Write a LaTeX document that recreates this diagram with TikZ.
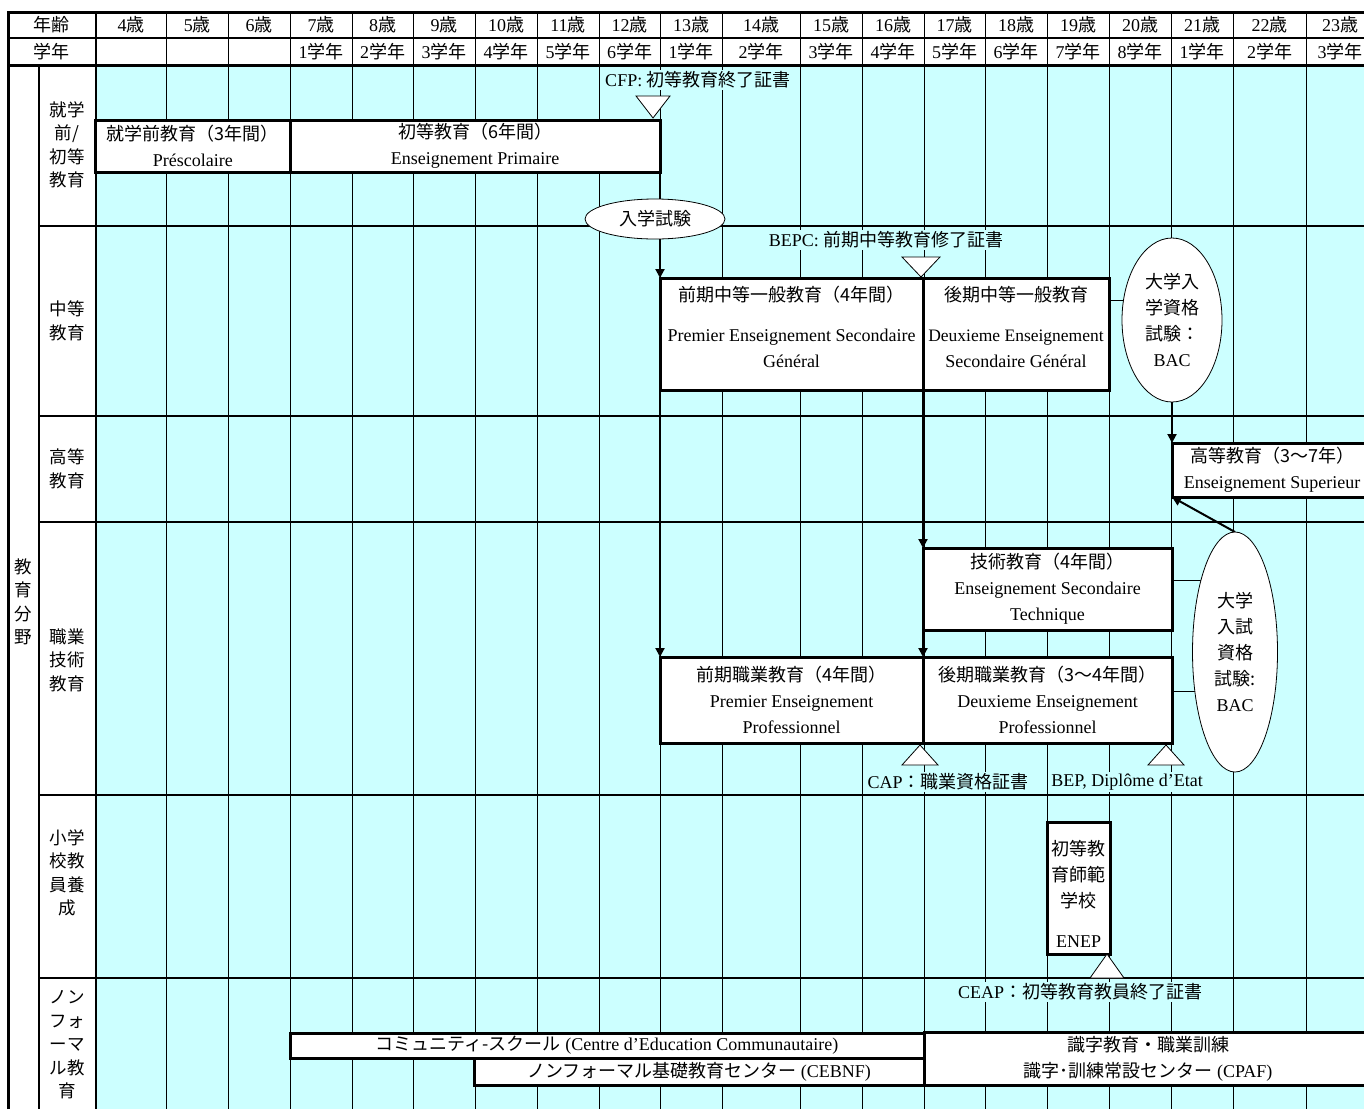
\documentclass[tikz,border=0pt]{standalone}
\usepackage{fontspec}
\setmainfont{Liberation Serif}
\newfontfamily\jpfont{Noto Sans CJK JP}
\usetikzlibrary{arrows.meta,positioning,calc,shapes.geometric}
\definecolor{pool}{RGB}{204,255,255}
\pgfdeclarelayer{grid}
\pgfdeclarelayer{links}
\pgfsetlayers{grid,links,main}

\begin{document}
\begin{tikzpicture}[
  x=1pt, y=-1pt,
  every node/.style={font=\fontsize{18}{26}\selectfont},
  cells/.style n args={4}{at={({(#1+#3)/2},{(#2+#4)/2})},
    minimum width={(#3-#1)*1pt}, minimum height={(#4-#2)*1pt}},
  box/.style={draw, line width=3pt, fill=white, align=center,
    inner sep=0pt, outer sep=0pt},
  oval/.style={draw, ellipse, line width=0.8pt, fill=white, align=center,
    inner sep=0pt, outer sep=0pt},
  head/.style={inner sep=0pt},
  cat/.style={font=\jpfont\fontsize{17.5}{23.5}\selectfont, align=center, inner sep=0pt},
  lbl/.style={fill=pool, inner sep=2pt},
  tri/.style={draw, line width=0.8pt, fill=white},
  arr/.style={-{Triangle[length=9pt,width=9pt]}, line width=2pt},
  link/.style={line width=1pt},
  rule/.style={line width=1pt},
  bold/.style={line width=2pt},
  frame/.style={line width=3pt}
]
  \useasboundingbox (0,0) rectangle (1364,1109);
  \clip (0,0) rectangle (1364,1109);

  \begin{pgfonlayer}{grid}
    \fill[pool] (95.5,65) rectangle (1364,1109);
    \foreach \x in {166.5,228,290,352,413,475,537,599,660,722,800,862,924,985,1047,1109,1171,1233,1306}
      \draw[rule] (\x,12) -- (\x,1109);
    \draw[bold] (95.5,12) -- (95.5,1109);
    \draw[bold] (39,65) -- (39,1109);
    \draw[bold] (8,38) -- (1364,38);
    \foreach \y in {226,416,522,795,978}
      \draw[bold] (39,\y) -- (1364,\y);
    \draw[frame] (8,65) -- (1364,65);
    \draw[frame] (8,1109) -- (8,12) -- (1364,12);
  \end{pgfonlayer}

  \node[head] (ageHead) at (51.5,25) {\jpfont 年齢};
  \node[head] (gradeHead) at (51.5,51.5) {\jpfont 学年};
  \foreach \xl/\xr/\ag in {95.5/166.5/4,166.5/228/5,228/290/6,290/352/7,352/413/8,413/475/9,475/537/10,537/599/11,599/660/12,660/722/13,722/800/14,800/862/15,862/924/16,924/985/17,985/1047/18,1047/1109/19,1109/1171/20,1171/1233/21,1233/1306/22,1306/1374/23}
    \node[head] (age\ag) at ({(\xl+\xr)/2},25) {\ag{\jpfont 歳}};
  \foreach \xl/\xr/\gr [count=\k from 7] in {290/352/1,352/413/2,413/475/3,475/537/4,537/599/5,599/660/6,660/722/1,722/800/2,800/862/3,862/924/4,924/985/5,985/1047/6,1047/1109/7,1109/1171/8,1171/1233/1,1233/1306/2,1306/1374/3}
    \node[head] (grade\k) at ({(\xl+\xr)/2},51.5) {\gr{\jpfont 学年}};

  \node[cat] (field) at (23.5,602) {教\\育\\分\\野};
  \node[cat] (catPrim) at (67,145) {就学\\前/\\初等\\教育};
  \node[cat] (catSec) at (67,321) {中等\\教育};
  \node[cat] (catHigh) at (67,469) {高等\\教育};
  \node[cat] (catVoc) at (67,660) {職業\\技術\\教育};
  \node[cat] (catTeach) at (67,873) {小学\\校教\\員養\\成};
  \node[cat] (catNonf) at (67,1045) {ノン\\フォ\\ーマ\\ル教\\育};

  \node[box, cells={95.5}{120}{290}{172}] (pre) {{\jpfont 就学前教育（3年間）}\\Préscolaire};
  \node[box, cells={290}{120}{660}{172}] (prim) {{\jpfont 初等教育（6年間）}\\Enseignement Primaire};
  \node[lbl] (cfp) at (698,80) {CFP: {\jpfont 初等教育終了証書}};
  \coordinate (cfpTip) at (653,118);
  \draw[tri] (cfpTip) -- ++(-17,-22) -- ++(34,0) -- cycle;
  \node[oval, minimum width=140pt, minimum height=40pt] (exam) at (655,219) {\jpfont 入学試験};

  \node[lbl] (bepc) at (886,240) {BEPC: {\jpfont 前期中等教育修了証書}};
  \coordinate (bepcTip) at (921,277);
  \draw[tri] (bepcTip) -- ++(-19,-20) -- ++(38,0) -- cycle;
  \node[box, cells={660}{278}{923}{390}] (ls) {{\jpfont 前期中等一般教育（4年間）}\\[14pt]Premier Enseignement Secondaire\\Général\rule[-14pt]{0pt}{0pt}};
  \node[box, cells={923}{278}{1109}{390}] (us) {{\jpfont 後期中等一般教育}\\[14pt]{\fontsize{17.5}{26}\selectfont Deuxieme Enseignement}\\Secondaire Général\rule[-14pt]{0pt}{0pt}};
  \node[oval, minimum width=100pt, minimum height=164pt] (bac1) at (1172,320) {{\jpfont 大学入}\\{\jpfont 学資格}\\{\jpfont 試験：}\\BAC};

  \node[box, cells={1172}{443}{1372}{497}] (hi) {{\jpfont 高等教育（3～7年）}\\Enseignement Superieur};

  \node[box, cells={923}{548}{1172}{630}] (tech) {{\jpfont 技術教育（4年間）}\\Enseignement Secondaire\\Technique};
  \node[box, cells={660}{657}{923}{743}] (lv1) {{\jpfont 前期職業教育（4年間）}\\Premier Enseignement\\Professionnel};
  \node[box, cells={923}{657}{1172}{743}] (lv2) {{\jpfont 後期職業教育（3～4年間）}\\Deuxieme Enseignement\\Professionnel};
  \node[oval, minimum width=85pt, minimum height=240pt] (bac2) at (1235,652) {{\jpfont 大学}\\{\jpfont 入試}\\{\jpfont 資格}\\{\jpfont 試験:}\\BAC};
  \coordinate (capTip) at (920,745);
  \draw[tri] (capTip) -- ++(-18,20) -- ++(36,0) -- cycle;
  \coordinate (bepTip) at (1166,745);
  \draw[tri] (bepTip) -- ++(-18,20) -- ++(36,0) -- cycle;
  \node[lbl] (cap) at (948,782) {CAP{\jpfont ：職業資格証書}};
  \node[lbl] (bep) at (1127,782) {BEP, Diplôme d'Etat};

  \node[box, cells={1047}{822}{1110}{954}] (enep) {\rule{0pt}{26pt}{\jpfont 初等教}\\{\jpfont 育師範}\\{\jpfont 学校}\\[14pt]ENEP};
  \coordinate (ceapTip) at (1107,954);
  \draw[tri] (ceapTip) -- ++(-17,24) -- ++(34,0) -- cycle;
  \node[lbl] (ceap) at (1080,992) {CEAP{\jpfont ：初等教育教員終了証書}};

  \node[box, cells={290}{1033}{924}{1058}] (comm) {{\jpfont コミュニティ-スクール} (Centre d'Education Communautaire)};
  \node[box, cells={474}{1058}{924}{1085}] (cebnf) {{\jpfont ノンフォーマル基礎教育センター} (CEBNF)};
  \node[box, cells={924}{1032}{1372}{1085}] (lit) {{\jpfont 識字教育・職業訓練}\\{\jpfont 識字･訓練常設センター} (CPAF)};

  \begin{pgfonlayer}{links}
    \draw[arr] (prim.south east) -- (ls.north west);
    \draw[arr] (ls.south west) -- (lv1.north west);
    \draw[arr] (ls.south east) -- (tech.north west);
    \draw[arr] (tech.south west) -- (lv2.north west);
    \draw[arr] (bac1.south) -- (hi.north west);
    \draw[arr] (bac2.north) -- (hi.south west);
    \coordinate (usOut) at ($(us.north east)!0.2!(us.south east)$);
    \coordinate (techOut) at ($(tech.east)+(0,-9)$);
    \coordinate (lv2Out) at ($(lv2.east)+(0,-9)$);
    \draw[link] (usOut) -- (usOut -| bac1.center);
    \draw[link] (techOut) -- (techOut -| bac2.center);
    \draw[link] (lv2Out) -- (lv2Out -| bac2.center);
  \end{pgfonlayer}
\end{tikzpicture}
\end{document}
